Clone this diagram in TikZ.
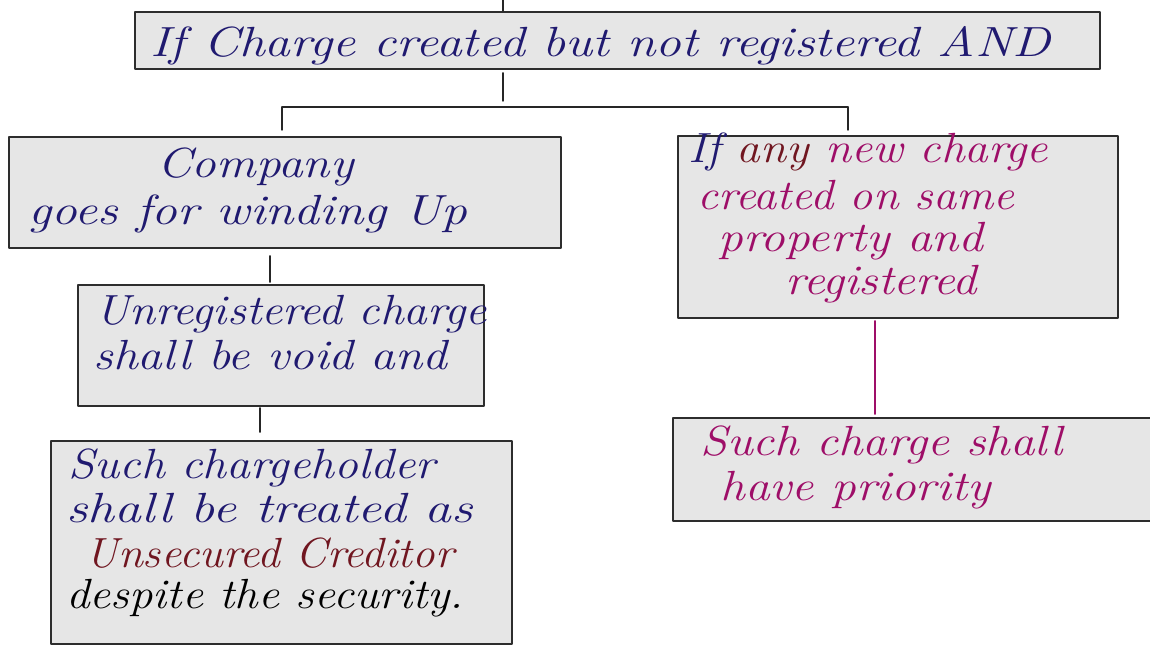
\documentclass[tikz,border=0pt]{standalone}
\usepackage{tikz}
\definecolor{inkNavy}{RGB}{32,26,112}
\definecolor{inkWine}{RGB}{112,22,32}
\definecolor{inkPlum}{RGB}{158,14,104}
\definecolor{boxGrey}{RGB}{230,230,230}
\definecolor{edgeGrey}{RGB}{45,45,45}
\newcommand\handw[2][1.17]{\scalebox{#1}[1]{#2}}
\tikzset{card/.style={draw=edgeGrey,fill=boxGrey,line width=1pt,inner sep=0pt},
 ink/.style={font=\fontsize{24}{28}\selectfont\itshape,inner sep=0pt,anchor=base west},
 link/.style={draw=black!85,line width=.8pt},
 every picture/.style={line join=round,line cap=round}}

\begin{document}
\begin{tikzpicture}[x=0.02cm,y=-0.02cm]
\useasboundingbox (0,0) rectangle (1150,655);
\node[card,minimum width=19.30cm,minimum height=1.14cm] (top) at (617.5,40.5) {};
\node[card,minimum width=11.04cm,minimum height=2.22cm] (wind) at (285,192.5) {};
\node[card,minimum width=8.12cm,minimum height=2.42cm] (void) at (281,345.5) {};
\node[card,minimum width=9.22cm,minimum height=4.06cm] (unsec) at (281.5,542.5) {};
\node[card,minimum width=8.80cm,minimum height=3.64cm] (newch) at (898,227) {};
\node[card,minimum width=9.74cm,minimum height=2.06cm] (prio) at (916.5,469.5) {};
\coordinate (stemTop) at (503,0);
\coordinate (forkTop) at (503,101);
\coordinate (barL) at (282,107);
\coordinate (barR) at (848,107);
\coordinate (trunkL) at (270,300);
\coordinate (trunkL2) at (260,420);
\coordinate (trunkR) at (875,360);
\draw[link] (stemTop) -- (top.north -| stemTop);
\draw[link,shorten <=.06cm] (top.south -| forkTop) -- (forkTop);
\draw[link] (barL) -- (barR);
\draw[link] (barL) -- ++(0,23);
\draw[link] (barR) -- ++(0,23);
\draw[link,shorten <=.14cm,shorten >=.04cm] (wind.south -| trunkL) -- (void.north -| trunkL);
\draw[link,shorten <=.02cm,shorten >=.16cm] (void.south -| trunkL2) -- (unsec.north -| trunkL2);
\draw[link,draw=inkPlum,shorten <=.04cm,shorten >=.06cm] (newch.south -| trunkR) -- (prio.north -| trunkR);
% texts
\node[ink,text=inkNavy] (topA) at (150,57) {\handw[1.22]{If Charge created but not registered AND}};
\node[ink,text=inkNavy] (windA) at (157,178) {\handw{Company}};
\node[ink,text=inkNavy] (windB) at (28,225) {\handw[1.22]{goes for winding Up}};
\node[ink,text=inkNavy] (voidA) at (95,325) {\handw[1.12]{Unregistered charge}};
\node[ink,text=inkNavy] (voidB) at (93,370) {\handw{shall be void and}};
\node[ink,text=inkNavy] (unsecA) at (68,478) {\handw[1.13]{Such chargeholder}};
\node[ink,text=inkNavy] (unsecB) at (66,522) {\handw[1.27]{shall be treated as}};
\node[ink,text=inkWine] (unsecC) at (85,567) {\handw[1.07]{Unsecured Creditor}};
\node[ink,text=black] (unsecD) at (66,608) {\handw[1.11]{despite the security.}};
\node[ink,text=inkNavy] (newchA) at (688,163) {\handw[1.12]{If \textcolor{inkWine}{any} \textcolor{inkPlum}{new charge}}};
\node[ink,text=inkPlum] (newchB) at (697,210) {\handw[1.1]{created on same}};
\node[ink,text=inkPlum] (newchC) at (718,252) {\handw{property and}};
\node[ink,text=inkPlum] (newchD) at (785,295) {\handw[1.15]{registered}};
\node[ink,text=inkPlum] (prioA) at (700,455) {\handw[1.16]{Such charge shall}};
\node[ink,text=inkPlum] (prioB) at (720,500) {\handw{have priority}};
\end{tikzpicture}
\end{document}
